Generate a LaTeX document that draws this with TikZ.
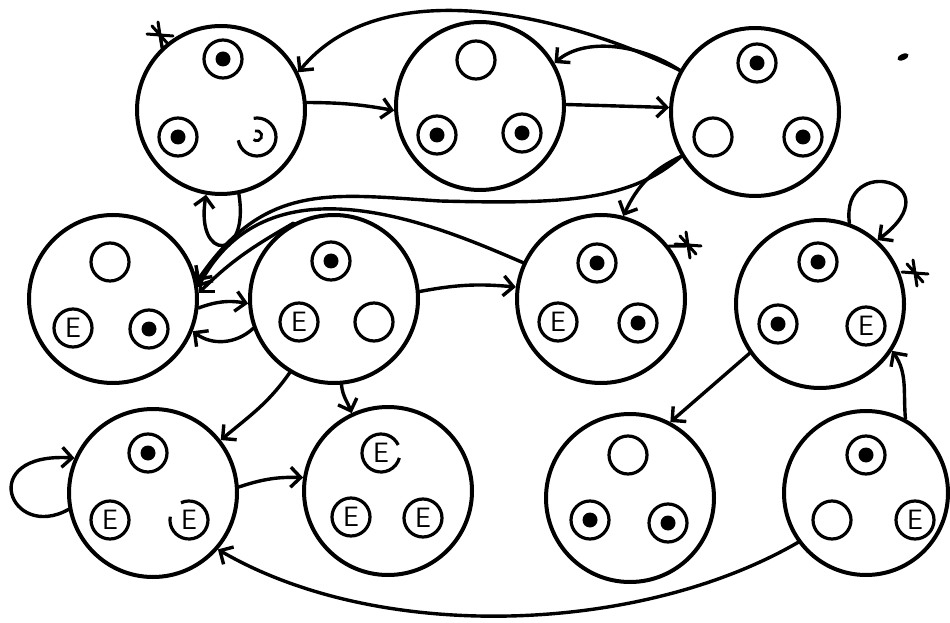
\documentclass[tikz,border=0pt]{standalone}
\usetikzlibrary{arrows.meta,calc}
\tikzset{
 big/.style={circle,draw,line width=4pt,minimum size=168pt,inner sep=0pt},
 sm/.style={line width=3.2pt},
 edge/.style={line width=3.4pt,-{Straight Barb[length=10pt,width=20pt]},line cap=round},
 etext/.style={font=\sffamily\fontsize{28}{28}\selectfont,inner sep=0pt},
 st/.style={line width=3pt,line cap=round},
}
\newcommand\smDot[1]{\draw[sm] #1 circle (19pt); \fill #1 circle (7.5pt);}
\newcommand\smRing[1]{\draw[sm] #1 circle (19pt);}
\newcommand\smE[2]{\draw[sm] #1 circle (19pt); \node[etext] (#2) at #1 {E};}
\newcommand\smEopen[4]{\draw[sm] #1 ++(#3:19pt) arc[start angle=#3,end angle=#4,radius=19pt]; \node[etext] (#2) at #1 {E};}
\newcommand\astar[1]{\begin{scope}[shift={#1}]\draw[st] (-13,1) -- (13,-1) (-2,13) -- (2,-13) (-8,9) -- (8,-9);\end{scope}}
\begin{document}
\begin{tikzpicture}[x=1pt,y=1pt]
\useasboundingbox (0,0) rectangle (950,622);
% big circles
\node[big] (A) at (221,512) {};
\node[big] (B) at (480,516) {};
\node[big] (C) at (755,510) {};
\node[big] (D) at (113,323) {};
\node[big] (F) at (334,323) {};
\node[big] (G) at (601,323) {};
\node[big] (H) at (820,318) {};
\node[big] (I) at (153,129) {};
\node[big] (J) at (388,131) {};
\node[big] (K) at (630,124) {};
\node[big,minimum size=164pt] (L) at (866,129) {};
% contents
\smDot{(223,563)} \smDot{(178,485)}
\draw[sm] (257,485) ++(100:19pt) arc[start angle=100,end angle=-170,radius=19pt];
\draw[line width=2.8pt] (255,491) arc[start angle=110,end angle=-130,radius=5pt];
\smRing{(476,562)} \smDot{(437,487)} \smDot{(522,489)}
\smDot{(757,559)} \smRing{(713,485)} \smDot{(803,485)}
\smRing{(110,360)} \smE{(73,294)}{eD} \smDot{(149,293)}
\smDot{(331,361)} \smE{(299,300)}{eF} \smRing{(374,300)}
\smDot{(597,359)} \smE{(558,300)}{eG} \smDot{(638,299)}
\smDot{(818,360)} \smDot{(778,298)} \smE{(866,296)}{eH}
\smDot{(148,169)} \smE{(110,102)}{eIa} \smEopen{(189,102)}{eIb}{115}{-190}
\smEopen{(381,169)}{eJa}{25}{345} \smE{(351,105)}{eJb} \smE{(423,104)}{eJc}
\smRing{(628,167)} \smDot{(590,102)} \smDot{(668,99)}
\smDot{(866,167)} \smRing{(832,102)} \smE{(915,102)}{eL}
% edges
\draw[edge] (A.5) to[bend left=5] (B.183);
\draw[edge] (B.1) -- (C.177);
\draw[edge] (C.151) .. controls (640,578) and (585,585) .. (B.30);
\draw[edge] (C.151) .. controls (560,610) and (380,650) .. (A.26);
\draw[edge] (A.-78) .. controls (250,360) and (195,360) .. (A.-100);
\draw[edge] (C.211) to[out=205,in=65] (G.75);
\draw[edge] (C.211) .. controls (630,420) and (560,418) .. (440,421) .. controls (330,428) and (265,440) .. (D.12);
\draw[edge] (G.155) .. controls (440,395) and (270,470) .. (D.8);
\draw[edge] (F.118) to[out=210,in=45] (D.4);
\draw[edge] (D.-6) to[bend left=15] (F.183);
\draw[edge] (F.200) to[bend left=40] (D.-22);
\draw[edge] (F.5) to[bend left=8] (G.172);
\draw[edge] (F.239) to[out=235,in=40] (I.38);
\draw[edge] (F.-85) to[out=-85,in=110] (J.115);
\draw[edge] (I.4) to[bend left=10] (J.171);
\draw[edge] (I.191) .. controls (10,80) and (-25,170) .. (I.156);
\draw[edge] (H.70) .. controls (840,470) and (955,440) .. (H.48);
\draw[edge] (H.215) -- (K.62);
\draw[edge] (L.62) to[out=95,in=-55] (H.-33);
\draw[edge] (L.216) .. controls (640,-12) and (380,-22) .. (I.-41);
% stars
\draw[st] (A.133) -- (160,587);
\astar{(160,587)}
\draw[st] (G.38) -- (686,376);
\astar{(688,377)}
\astar{(915,349)}
% stray mark
\fill[rotate around={25:(903,565)}] (903,565) ellipse (6pt and 3pt);
\end{tikzpicture}
\end{document}
